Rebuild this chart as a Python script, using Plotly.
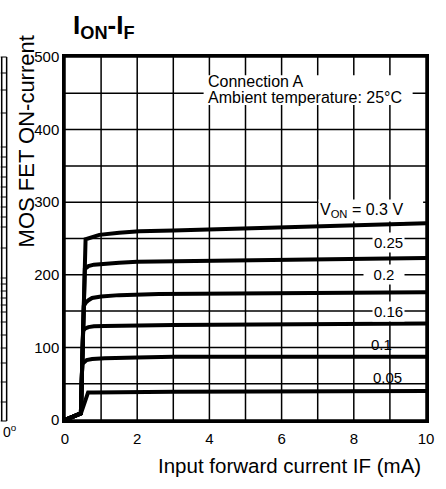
import plotly.graph_objects as go

# ---------------- data ----------------
x_grid = [0, 1, 2, 3, 4, 5, 6, 7, 8, 9, 10]
x_ticktext = ["0", "", "2", "", "4", "", "6", "", "8", "", "10"]
y_grid = [0, 50, 100, 150, 200, 250, 300, 350, 400, 450, 500]
y_ticktext = ["0", "", "100", "", "200", "", "300", "", "400", "", "500"]

if_03 = [0, 0.15, 0.44, 0.57, 0.75, 0.95, 1.5, 2.06, 3, 3.7, 5, 7, 10]
ion_03 = [0, 3, 9, 249, 252, 255, 258, 260, 261, 262, 265, 268, 271]

if_025 = [0, 0.15, 0.44, 0.55, 0.65, 0.8, 1.0, 1.5, 2, 3.7, 6, 10]
ion_025 = [0, 3, 9, 208, 212, 214, 215, 216.5, 218, 219, 221, 223]

if_02 = [0, 0.15, 0.44, 0.52, 0.58, 0.65, 0.75, 1.0, 1.5, 2.6, 4, 10]
ion_02 = [0, 3, 9, 157, 162, 165, 168, 170, 172, 173.5, 174, 176]

if_016 = [0, 0.15, 0.44, 0.50, 0.56, 0.65, 0.8, 1.1, 2, 3, 10]
ion_016 = [0, 3, 9, 123, 126, 128, 129, 129.5, 130, 131, 133]

if_01 = [0, 0.15, 0.44, 0.477, 0.53, 0.6, 0.75, 1.1, 2, 3, 10]
ion_01 = [0, 3, 9, 77, 80, 82.5, 84, 85, 86, 87, 87]

if_005 = [0, 0.15, 0.44, 0.55, 0.64, 0.8, 1.1, 3, 10]
ion_005 = [0, 3, 9, 25, 38, 38, 38, 39, 40]

series = [
    ("0.3 V", if_03, ion_03),
    ("0.25", if_025, ion_025),
    ("0.2", if_02, ion_02),
    ("0.16", if_016, ion_016),
    ("0.1", if_01, ion_01),
    ("0.05", if_005, ion_005),
]

curve_labels = ["V<sub>ON</sub> = 0.3 V", "0.25", "0.2", "0.16", "0.1", "0.05"]
title_text = "<b>I<sub>ON</sub>-I<sub>F</sub></b>"
x_title = "Input forward current IF (mA)"
y_title = "MOS FET ON-current"
note_lines = ["Connection A", "Ambient temperature: 25°C"]

# ---------------- layout geometry ----------------
W, H = 446, 489
L, R, T, B = 65, 16, 57, 69
PW, PH = W - L - R, H - T - B
FONT = "Liberation Sans, Arial, Helvetica, sans-serif"
X0, X1, Y0, Y1 = 0, 10, 0, 500


def px(xp):
    return (xp - L) / PW


def py(yp):
    return (H - B - yp) / PH


fig = go.Figure()
for name, xs, ys in series:
    fig.add_trace(go.Scatter(x=xs, y=ys, mode="lines", name=name,
                             line=dict(color="black", width=4),
                             showlegend=False, hoverinfo="skip"))

axis_common = dict(showline=True, linecolor="black", linewidth=2.5, mirror=True,
                   showgrid=False, zeroline=False, tickmode="array",
                   tickfont=dict(family=FONT, size=15, color="black"))

fig.update_xaxes(range=[X0, X1], tickvals=x_grid, ticktext=x_ticktext,
                 ticks="outside", ticklen=3, tickcolor="white", tickwidth=0.1,
                 **axis_common)
fig.update_yaxes(range=[Y0, Y1], tickvals=y_grid, ticktext=y_ticktext,
                 ticks="", **axis_common)

shapes = []
# grid lines (black, so drawing them over the black curves changes nothing)
GRID = dict(color="black", width=1.5)
for gx in x_grid:
    shapes.append(dict(type="line", xref="x", yref="y", x0=gx, x1=gx, y0=Y0, y1=Y1,
                       line=GRID, layer="above"))
for gy in y_grid:
    shapes.append(dict(type="line", xref="x", yref="y", x0=X0, x1=X1, y0=gy, y1=gy,
                       line=GRID, layer="above"))
# white patches where the grid is interrupted by text
WHITE = dict(fillcolor="white", line=dict(width=0), layer="above")
shapes.append(dict(type="rect", xref="x", yref="y", x0=3.84, x1=9.63, y0=434, y1=475, **WHITE))
shapes.append(dict(type="rect", xref="x", yref="y", x0=7.73, x1=9.92, y0=297, y1=303, **WHITE))

# sliver of the neighbouring chart on the left edge
sliver_y = [57, 73, 90, 113, 147, 157, 167, 177, 187, 197, 207, 217, 227,
            248, 278, 284, 291, 298, 305, 312, 322, 335, 348, 363, 382, 402, 421]
for xv in (1, 6):
    shapes.append(dict(type="line", xref="paper", yref="paper", x0=px(xv), x1=px(xv),
                       y0=py(57), y1=py(421), line=dict(color="black", width=1.5)))
for yv in sliver_y:
    shapes.append(dict(type="line", xref="paper", yref="paper", x0=px(0), x1=px(6),
                       y0=py(yv), y1=py(yv), line=dict(color="black", width=1)))

annotations = [
    dict(text=title_text, xref="paper", yref="paper", x=px(71), y=py(8),
         xanchor="left", yanchor="top", showarrow=False,
         font=dict(family=FONT, size=26, color="black")),
    dict(text=x_title, xref="paper", yref="paper", x=px(292), y=py(465),
         xanchor="center", yanchor="middle", showarrow=False,
         font=dict(family=FONT, size=20.5, color="black")),
    dict(text=y_title, xref="paper", yref="paper", x=px(26), y=py(141),
         xanchor="center", yanchor="middle", showarrow=False, textangle=-90,
         font=dict(family=FONT, size=22, color="black")),
    dict(text="0<sup>o</sup>", xref="paper", yref="paper", x=px(0), y=py(431),
         xanchor="left", yanchor="middle", showarrow=False,
         font=dict(family=FONT, size=14, color="black")),
    dict(text=note_lines[0], xref="x", yref="y", x=3.9, y=466,
         xanchor="left", yanchor="middle", showarrow=False,
         font=dict(family=FONT, size=16, color="black")),
    dict(text=note_lines[1], xref="x", yref="y", x=3.9, y=444,
         xanchor="left", yanchor="middle", showarrow=False,
         font=dict(family=FONT, size=16, color="black")),
]

label_pos = [(8.2, 289, None), (8.97, 245, None), (8.83, 201, 38),
             (8.95, 150, None), (8.77, 104, None), (8.92, 59, None)]
for txt, (lx, ly, w) in zip(curve_labels, label_pos):
    a = dict(text=txt, xref="x", yref="y", x=lx, y=ly, xanchor="center",
             yanchor="middle", showarrow=False,
             font=dict(family=FONT, size=15 if txt != curve_labels[0] else 16, color="black"))
    if txt not in ("0.1", "0.05"):
        a.update(bgcolor="white", borderpad=1)
    if w:
        a["width"] = w
    annotations.append(a)

fig.update_layout(width=W, height=H, margin=dict(l=L, r=R, t=T, b=B),
                  paper_bgcolor="white", plot_bgcolor="rgba(0,0,0,0)",
                  shapes=shapes, annotations=annotations,
                  font=dict(family=FONT, color="black"))

fig.write_html("out.html")
